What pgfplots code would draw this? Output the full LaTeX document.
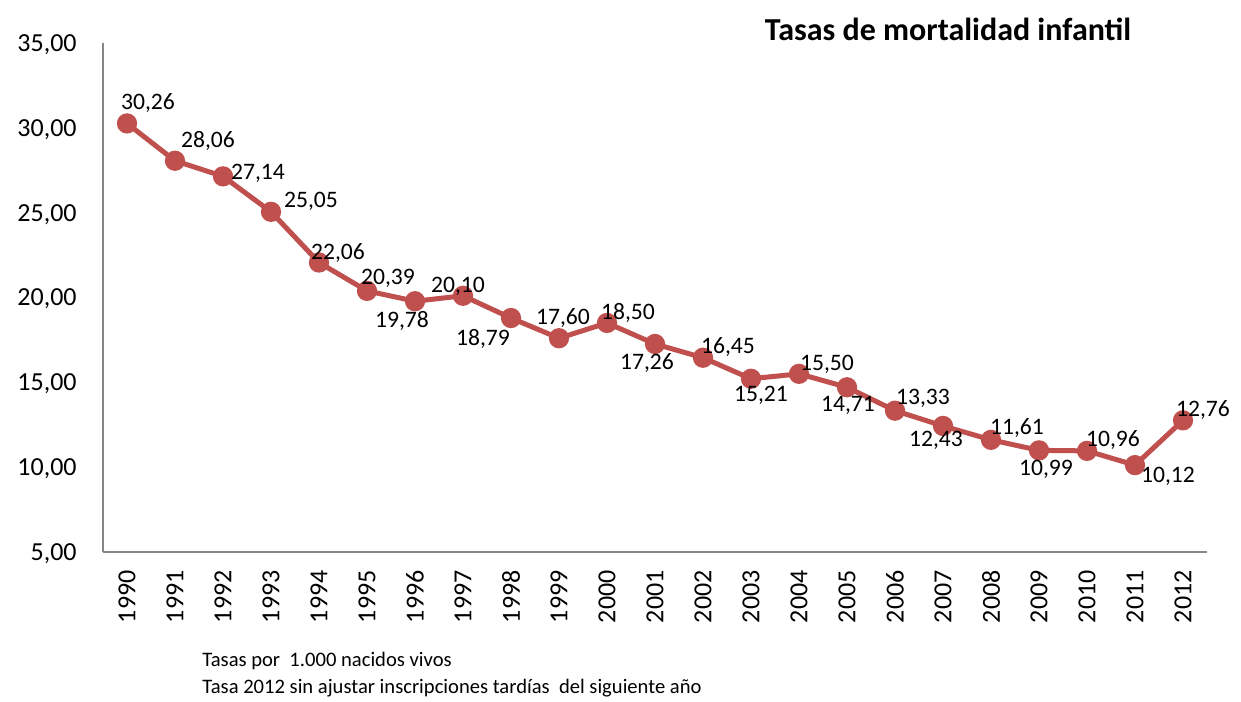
\documentclass[border=0pt]{standalone}
\usepackage{fontspec}
\setmainfont{Carlito}
\usepackage{pgfplots}
\usepackage{pgfplotstable}
\pgfplotsset{compat=1.18}
\definecolor{serie}{HTML}{C0504D}
\definecolor{eje}{HTML}{868686}

% year, rate, label offset (dx, dy in px, dy downwards)
\pgfplotstableread{
year  rate   dx   dy
1990  30.26  21  -22
1991  28.06  33  -21
1992  27.14  35   -5
1993  25.05  40  -12
1994  22.06  19  -11
1995  20.39  21  -14
1996  19.78 -13   18
1997  20.10  -5  -11
1998  18.79 -28   19
1999  17.60   4  -22
2000  18.50  21  -12
2001  17.26  -8   18
2002  16.45  25  -12
2003  15.21  10   15
2004  15.50  28  -11
2005  14.71   1   17
2006  13.33  28  -14
2007  12.43  -7   13
2008  11.61  26  -13
2009  10.99   7   17
2010  10.96  26  -12
2011  10.12  33   10
2012  12.76  20  -12
}\tasas

\begin{document}
\begin{tikzpicture}
\useasboundingbox (0,0) rectangle (620.5pt,350.5pt);
\begin{axis}[
  at={(51.5pt,74.5pt)}, anchor=south west,
  scale only axis,
  width=552pt, height=254.5pt,
  xmin=1989.5, xmax=2012.5,
  ymin=5, ymax=35,
  xtick=data,
  ytick={5,10,...,35},
  axis x line*=bottom, axis y line*=left,
  axis line style={draw=eje, line width=1pt, -},
  major tick length=0pt,
  tick label style={font=\fontsize{13}{15}\selectfont},
  /pgf/number format/assume math mode=true,
  xticklabel style={rotate=90, anchor=east, inner sep=0pt,
    /pgf/number format/.cd, fixed, precision=0, 1000 sep={}},
  xticklabel shift=9pt,
  yticklabel style={anchor=east, inner sep=0pt, text depth=0pt,
    /pgf/number format/.cd, fixed, fixed zerofill, precision=2, use comma},
  yticklabel shift=13pt,
  clip=false,
]
\addplot[color=serie, line width=2.5pt, mark=*, mark size=3.8pt,
  mark options={fill=serie, draw=none},
  visualization depends on={\thisrow{dx}\as\dx},
  visualization depends on={\thisrow{dy}\as\dy},
  nodes near coords={\pgfmathprintnumber[fixed, fixed zerofill, precision=2, use comma, assume math mode=true]{\pgfplotspointmeta}},
  every node near coord/.append style={anchor=center, inner sep=0pt, text depth=0pt,
    font=\fontsize{11.8}{14}\selectfont, color=black,
    xshift={\dx*0.5pt}, yshift={-\dy*0.5pt}},
  point meta=y,
] table[x=year, y=rate] {\tasas};
\end{axis}
\node[anchor=base, inner sep=0pt, font=\bfseries\fontsize{16}{19}\selectfont] at (474pt,330.3pt) {Tasas de mortalidad infantil};
\node[anchor=base west, inner sep=0pt, font=\fontsize{10.3}{13}\selectfont] at (101pt,17pt) {Tasas por\ \ 1.000 nacidos vivos};
\node[anchor=base west, inner sep=0pt, font=\fontsize{10.3}{13}\selectfont] at (101pt,4pt) {Tasa 2012 sin ajustar inscripciones tardías\ \ del siguiente año};
\end{tikzpicture}
\end{document}
